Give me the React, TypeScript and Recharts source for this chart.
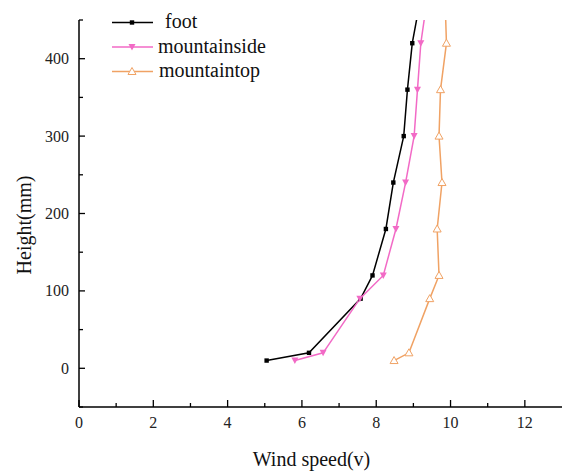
import React from "react";
import { LineChart, Line, XAxis, YAxis } from "recharts";

// heights (mm) where wind speed was measured; last row lies above the visible range
const heights = [10, 20, 90, 120, 180, 240, 300, 360, 420, 480];
const footSpeed = [5.05, 6.19, 7.58, 7.9, 8.26, 8.46, 8.74, 8.84, 8.97, 9.2];
const mountainsideSpeed = [5.81, 6.57, 7.56, 8.19, 8.53, 8.79, 9.02, 9.11, 9.2, 9.38];
const mountaintopSpeed = [8.48, 8.88, 9.44, 9.69, 9.64, 9.77, 9.69, 9.73, 9.89, 9.85];

const seriesNames = ["foot", "mountainside", "mountaintop"];
const xTicks = [0, 1, 2, 3, 4, 5, 6, 7, 8, 9, 10, 11, 12];
const yTicks = [-50, 0, 50, 100, 150, 200, 250, 300, 350, 400, 450];

const FONT = "'Liberation Serif', 'Times New Roman', serif";

const seriesStyle = [
  { color: "#000000", marker: "square", textDx: 7 },
  { color: "#F26AC6", marker: "down", textDx: 0 },
  { color: "#F0A264", marker: "up", textDx: 1 },
];

const toRows = (speeds: number[]) =>
  heights.map((h, i) => ({ speed: speeds[i], height: h }));

const seriesData = [toRows(footSpeed), toRows(mountainsideSpeed), toRows(mountaintopSpeed)];

const Marker = ({ cx, cy, kind, color }: any) => {
  if (cx == null || cy == null) return null;
  if (kind === "square") {
    return <rect x={cx - 2.2} y={cy - 2.2} width={4.4} height={4.4} fill={color} />;
  }
  if (kind === "down") {
    return (
      <polygon
        points={`${cx - 3.5},${cy - 3} ${cx + 3.5},${cy - 3} ${cx},${cy + 3.5}`}
        fill={color}
      />
    );
  }
  return (
    <polygon
      points={`${cx},${cy - 4} ${cx - 4},${cy + 3} ${cx + 4},${cy + 3}`}
      fill="#fff"
      stroke={color}
      strokeWidth={1}
    />
  );
};

const XTick = (props: any) => {
  const { x, y, payload } = props;
  const v = payload.value;
  const major = v % 2 === 0;
  return (
    <g>
      <line x1={x} x2={x} y1={y} y2={y - (major ? 7 : 4)} stroke="#000" strokeWidth={1.3} />
      {major && (
        <text x={x} y={y + 21} textAnchor="middle" fontSize={16} fontFamily={FONT} fill="#222">
          {v}
        </text>
      )}
    </g>
  );
};

const YTick = (props: any) => {
  const { x, y, payload } = props;
  const v = payload.value;
  const major = v % 100 === 0;
  return (
    <g>
      <line x1={x} x2={x + (major ? 6 : 4)} y1={y} y2={y} stroke="#000" strokeWidth={1.3} />
      {major && (
        <text x={x - 10} y={y + 5.5} textAnchor="end" fontSize={16} fontFamily={FONT} fill="#222">
          {v}
        </text>
      )}
    </g>
  );
};

// legend drawn as an overlay so it doesn't eat plot space
const LegendBox = () => (
  <svg
    width={300}
    height={85}
    style={{ position: "absolute", left: 0, top: 0, pointerEvents: "none" }}
  >
    {seriesNames.map((name, i) => {
      const s = seriesStyle[i];
      const ly = 22.5 + i * 24.5;
      return (
        <g key={name}>
          <line x1={112} x2={153} y1={ly} y2={ly} stroke={s.color} strokeWidth={1.5} />
          <Marker cx={132} cy={ly} kind={s.marker} color={s.color} />
          <text x={158 + s.textDx} y={ly + 5.5} fontSize={20} fontFamily={FONT} fill="#111">
            {name}
          </text>
        </g>
      );
    })}
  </svg>
);

export default function App() {
  return (
    <div style={{ position: "absolute", left: 0, top: 0, width: 562, height: 471, background: "#fff" }}>
      <LineChart width={562} height={471} margin={{ top: 20, right: 0, bottom: 0, left: 0 }}>
        <XAxis
          type="number"
          dataKey="speed"
          domain={[0, 13]}
          ticks={xTicks}
          allowDataOverflow
          height={64}
          tickSize={0}
          tickMargin={0}
          tickLine={false}
          tick={<XTick />}
          axisLine={{ stroke: "#000", strokeWidth: 1.5 }}
          label={{
            content: (p: any) => {
              const vb = p.viewBox;
              return (
                <text
                  x={vb.x + vb.width / 2 - 9}
                  y={466}
                  textAnchor="middle"
                  fontSize={20}
                  fontFamily={FONT}
                  fill="#111"
                >
                  Wind speed(v)
                </text>
              );
            },
          }}
        />
        <YAxis
          type="number"
          dataKey="height"
          domain={[-50, 450]}
          ticks={yTicks}
          allowDataOverflow
          width={79}
          tickSize={0}
          tickMargin={0}
          tickLine={false}
          tick={<YTick />}
          axisLine={{ stroke: "#000", strokeWidth: 1.5 }}
          label={{
            content: () => (
              <text
                x={31}
                y={225}
                transform="rotate(-90, 31, 225)"
                textAnchor="middle"
                fontSize={20}
                fontFamily={FONT}
                fill="#111"
              >
                Height(mm)
              </text>
            ),
          }}
        />
        {seriesNames.map((name, i) => (
          <Line
            key={name}
            name={name}
            data={seriesData[i]}
            dataKey="height"
            type="linear"
            stroke={seriesStyle[i].color}
            strokeWidth={1.5}
            isAnimationActive={false}
            dot={(p: any) => (
              <Marker
                key={`${name}-${p.index}`}
                cx={p.cx}
                cy={p.cy}
                kind={seriesStyle[i].marker}
                color={seriesStyle[i].color}
              />
            )}
            activeDot={false}
          />
        ))}
      </LineChart>
      <LegendBox />
    </div>
  );
}
